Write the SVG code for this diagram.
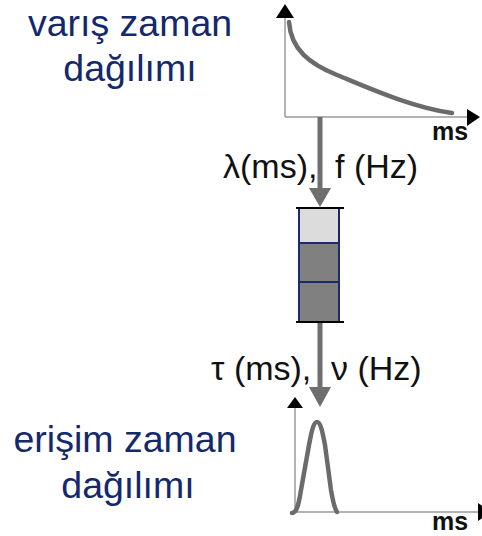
<svg xmlns="http://www.w3.org/2000/svg" width="482" height="536" viewBox="0 0 482 536">
<style>
.lbl{font-family:"Liberation Sans",Arial,sans-serif;font-size:37.5px;fill:#14286c;text-anchor:middle}
.sym{font-family:"Liberation Sans",Arial,sans-serif;font-size:34px;fill:#111}
.ax{stroke:#9a9a9a;stroke-width:1.5;fill:none}
.axh{fill:#000}
.curve{stroke:#6b6b6b;stroke-width:4.5;fill:none;stroke-linecap:round}
.unit{font-family:"Liberation Sans",Arial,sans-serif;font-size:25px;font-weight:bold;fill:#111}
.conn{stroke:#6e6e6e;stroke-width:5;fill:none}
.head{fill:#6e6e6e}
.cell{stroke:#1b2a6b;stroke-width:2}
.cap{stroke:#000;stroke-width:2}
</style>
<rect width="482" height="536" fill="#fff"/>
<g id="arrival-label">
<text class="lbl" x="130" y="36">varış zaman</text>
<text class="lbl" x="130" y="81">dağılımı</text>
</g>
<g id="arrival-graph">
<line class="ax" x1="285" y1="17" x2="285" y2="117"/>
<line class="ax" x1="285" y1="117" x2="468" y2="117"/>
<polygon class="axh" points="276,18 294,18 285,4"/>
<polygon class="axh" points="467,109 467,126 480,117"/>
<path class="curve" d="M289,22 C291,50 310,64 337,75 S410,107 452,113"/>
<text class="unit" x="432" y="140">ms</text>
</g>
<g id="queue">
<rect class="cell" x="299" y="208" width="40" height="35" fill="#dcdcdc"/>
<rect class="cell" x="299" y="243" width="40" height="39" fill="#808080"/>
<rect class="cell" x="299" y="282" width="40" height="40" fill="#808080"/>
<line class="cap" x1="296" y1="208" x2="344" y2="208"/>
<line class="cap" x1="296" y1="322" x2="344" y2="322"/>
</g>
<g id="access-label">
<text class="lbl" x="125" y="452">erişim zaman</text>
<text class="lbl" x="128" y="498">dağılımı</text>
</g>
<g id="access-graph">
<line class="ax" x1="295" y1="407" x2="295" y2="512"/>
<line class="ax" x1="295" y1="512" x2="479" y2="512"/>
<polygon class="axh" points="287,408 303,408 295,397"/>
<polygon class="axh" points="478,503 478,521 491,512"/>
<path class="curve" d="M292,513 C297,513 299,503 301,490 L309,445 C312,429 314,422 317,422 C320,422 322,429 325,445 L331,490 C333,502 335,509 337,512"/>
<text class="unit" x="432" y="530">ms</text>
</g>
<g id="connectors">
<line class="conn" x1="320" y1="117" x2="320" y2="190"/>
<polygon class="head" points="309,188 331,188 320,207"/>
<line class="conn" x1="320" y1="323" x2="320" y2="389"/>
<polygon class="head" points="309,387 331,387 320,407"/>
<text class="sym" x="223" y="178">λ(ms),</text>
<text class="sym" x="335" y="178">f (Hz)</text>
<text class="sym" x="211" y="380">τ (ms),</text>
<text class="sym" x="331" y="380">ν (Hz)</text>
</g>
</svg>
